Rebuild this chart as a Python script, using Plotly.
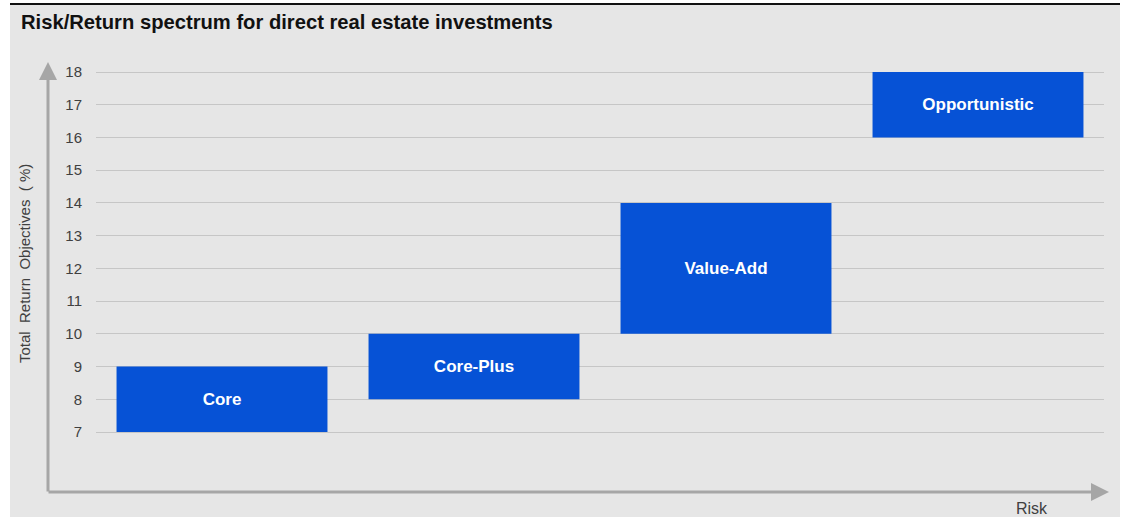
import plotly.graph_objects as go

categories = ["Core", "Core-Plus", "Value-Add", "Opportunistic"]
low_return = [7, 8, 10, 16]
high_return = [9, 10, 14, 18]
y_ticks = list(range(7, 19))

W, H = 1125, 517
L, R, T, B = 96, 21, 63, 25
PW, PH = W - L - R, H - T - B


def px(xp):
    return (xp - L) / PW


def py(yp):
    return (H - B - yp) / PH


FONT = "Liberation Sans, Arial, sans-serif"
BAR = "#0652d6"
NB = "\u00a0"

fig = go.Figure()
fig.add_trace(go.Bar(
    x=categories,
    y=[h - l for h, l in zip(high_return, low_return)],
    base=low_return,
    width=0.837,
    marker=dict(color=BAR, line=dict(width=0)),
    text=["<b>%s</b>" % c for c in categories],
    textposition="inside",
    insidetextanchor="middle",
    textangle=0,
    constraintext="none",
    textfont=dict(color="white", size=17, family=FONT),
    hoverinfo="skip",
))

ytitle = (NB + NB).join(["Total", "Return", "Objectives", "(" + NB + "%)"])

fig.update_layout(
    width=W, height=H,
    margin=dict(l=L, r=R, t=T, b=B, pad=0),
    paper_bgcolor="white",
    plot_bgcolor="rgba(0,0,0,0)",
    showlegend=False,
    hovermode=False,
    font=dict(family=FONT, color="#404040", size=14),
    xaxis=dict(range=[-0.5, 3.5], showticklabels=False, showgrid=False,
               zeroline=False, showline=False, ticks="", fixedrange=True),
    yaxis=dict(range=[5.167, 18.275], tickvals=y_ticks, showgrid=True,
               gridcolor="#c6c6c6", gridwidth=1, zeroline=False, showline=False,
               ticks="", ticklabelstandoff=13, fixedrange=True,
               tickfont=dict(size=15, color="#404040", family=FONT)),
    shapes=[
        dict(type="rect", xref="paper", yref="paper", layer="below",
             x0=px(10), x1=px(1120), y0=py(517), y1=py(5),
             fillcolor="#e6e6e6", line=dict(width=0)),
        dict(type="line", xref="paper", yref="paper",
             x0=px(10), x1=px(1120), y0=py(4), y1=py(4),
             line=dict(color="#111111", width=2)),
    ],
    annotations=[
        dict(text="<b>Risk/Return spectrum for direct real estate investments</b>",
             xref="paper", yref="paper", x=px(19), y=py(22),
             xanchor="left", yanchor="middle", showarrow=False,
             font=dict(size=20.2, color="#111111", family=FONT)),
        dict(text=ytitle, xref="paper", yref="paper",
             x=px(24), y=py(264), textangle=-90, xanchor="center", yanchor="middle",
             showarrow=False, font=dict(size=15, color="#404040", family=FONT)),
        dict(text="Risk", xref="paper", yref="paper", x=px(1032), y=py(508),
             xanchor="center", yanchor="middle", showarrow=False,
             font=dict(size=16, color="#404040", family=FONT)),
        dict(text="", xref="paper", yref="paper", x=px(48), y=py(62),
             ax=0, ay=431, axref="pixel", ayref="pixel", showarrow=True,
             arrowhead=2, arrowsize=1.2, arrowwidth=3, arrowcolor="#a6a6a6", standoff=0),
        dict(text="", xref="paper", yref="paper", x=px(1109), y=py(492),
             ax=-1062, ay=0, axref="pixel", ayref="pixel", showarrow=True,
             arrowhead=2, arrowsize=1.2, arrowwidth=3, arrowcolor="#a6a6a6", standoff=0),
    ],
)

fig.write_html("out.html", config={"displayModeBar": False},
               post_script="document.body.style.margin='0';document.body.style.overflow='hidden';")
